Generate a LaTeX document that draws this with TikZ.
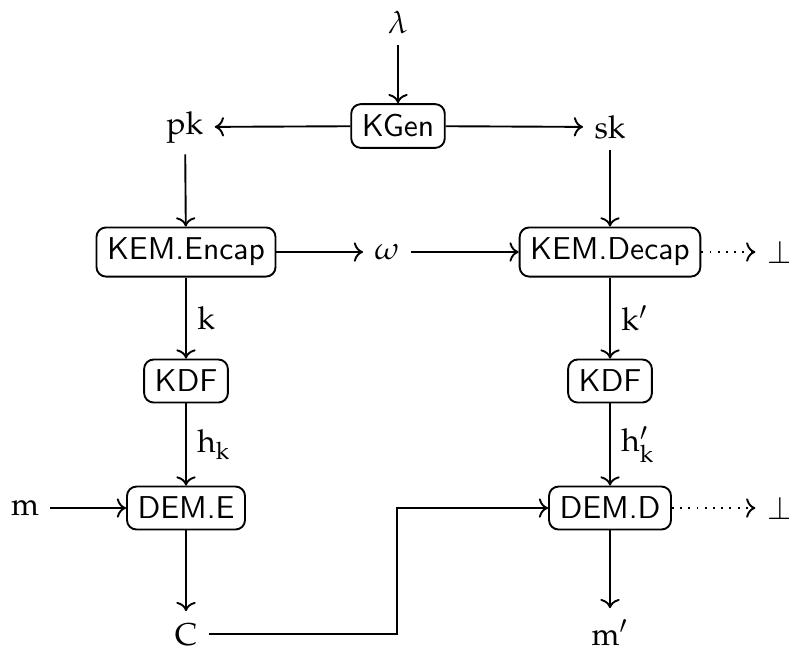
\documentclass[tikz,border=0pt]{standalone}
\usepackage{mathpazo}
\usepackage{tikz}
\usetikzlibrary{arrows.meta, positioning}

\begin{document}
\begin{tikzpicture}[x=0.01113cm, y=-0.01113cm, line width=0.6pt, every node/.style={font=\normalsize}]
    % Styles
    \tikzstyle{algo} = [rectangle, rounded corners=3pt, draw, font=\sffamily, inner sep=3.33pt]
    \tikzstyle{val} = [inner sep=3.33pt]
    \tikzstyle{flow} = [->]
    \tikzstyle{fail} = [->, dotted]

    \useasboundingbox (0,0) rectangle (789,652);

    % Nodes
    \node[val] (lam) at (398,22) {$\lambda$};
    \node[algo] (kgen) at (398,126) {KGen};
    \node[val] (pk) at (185,127) {$\mathrm{pk}$};
    \node[val] (sk) at (610,127) {$\mathrm{sk}$};

    \node[algo] (encap) at (186,252) {KEM.Encap};
    \node[val] (omega) at (387,252) {$\omega$};
    \node[algo] (decap) at (610,252) {KEM.Decap};
    \node[val] (botA) at (780,252) {$\bot$};

    \node[algo] (kdfA) at (186,381) {KDF};
    \node[algo] (kdfB) at (610,381) {KDF};

    \node[val] (msg) at (25,508) {$\mathrm{m}$};
    \node[algo] (deme) at (186,508) {DEM.E};
    \node[algo] (demd) at (610,508) {DEM.D};
    \node[val] (botB) at (780,508) {$\bot$};

    \node[val, anchor=base] (ctxt) at (186,645) {$\mathrm{C}$};
    \node[val, anchor=base] (msgB) at (610,645) {$\mathrm{m}'$};

    \coordinate (turn) at (397,572);

    % Connections
    \draw[flow] (lam) -- (kgen);
    \draw[flow] (kgen) -- (pk);
    \draw[flow] (kgen) -- (sk);
    \draw[flow] (pk) -- (encap);
    \draw[flow] (sk) -- (decap);
    \draw[flow] (encap) -- (omega);
    \draw[flow] (omega) -- (decap);
    \draw[fail] (decap) -- (botA);
    \draw[flow] (encap) -- node[right] {$\mathrm{k}$} (kdfA);
    \draw[flow] (decap) -- node[right] {$\mathrm{k}'$} (kdfB);
    \draw[flow] (kdfA) -- node[right] {$\mathrm{h}_{\mathrm{k}}$} (deme);
    \draw[flow] (kdfB) -- node[right] {$\mathrm{h}'_{\mathrm{k}}$} (demd);
    \draw[flow] (msg) -- (deme);
    \draw[fail] (demd) -- (botB);
    \draw[flow] (deme) -- (ctxt);
    \draw[flow] (demd) -- (msgB);
    \draw[flow] (ctxt) -| (turn) |- (demd);
\end{tikzpicture}
\end{document}
